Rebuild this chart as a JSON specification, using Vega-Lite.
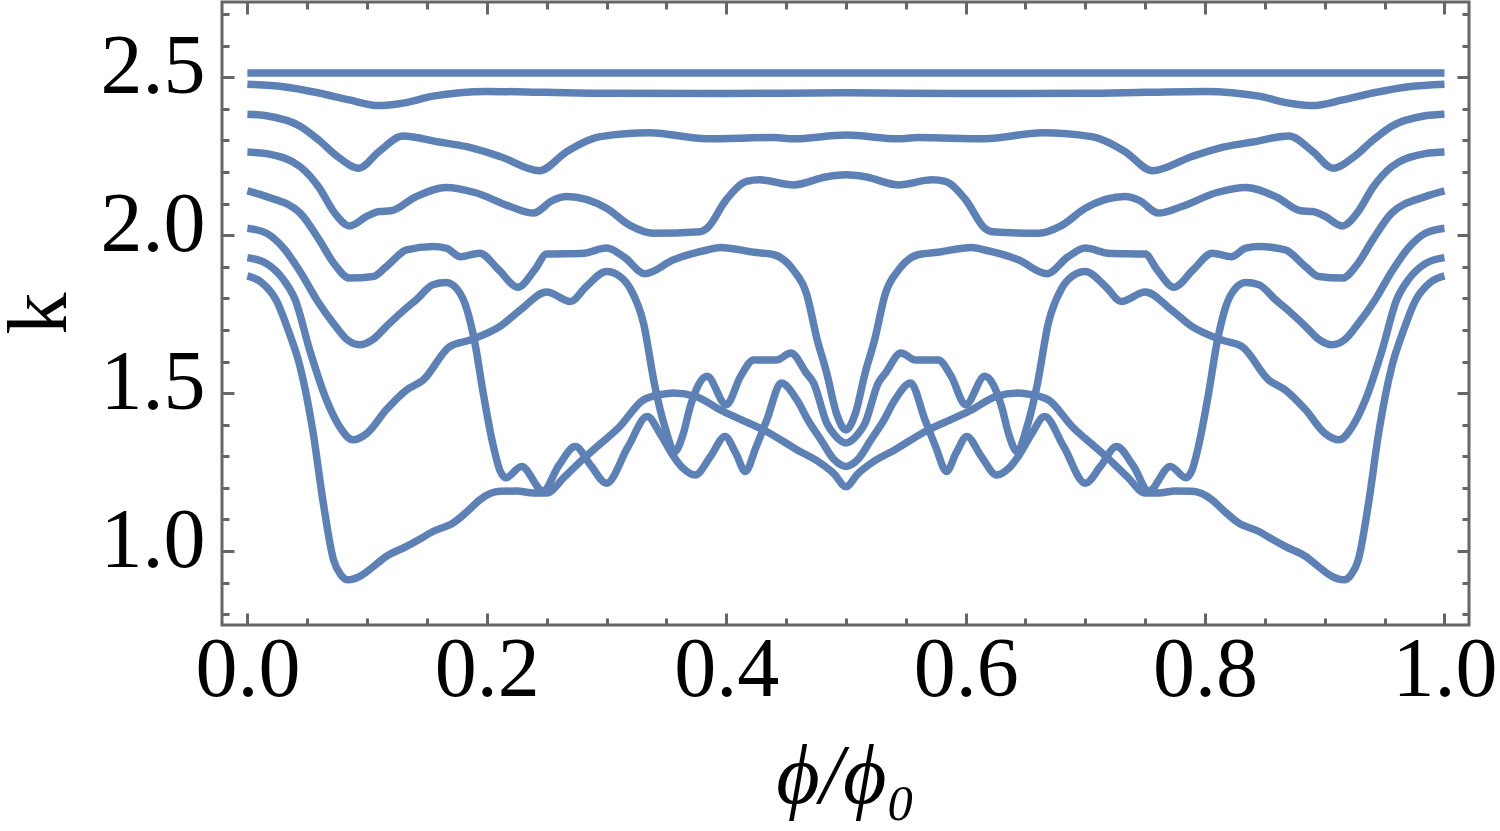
{
  "$schema": "https://vega.github.io/schema/vega-lite/v6.json",
  "background": "white",
  "autosize": "none",
  "width": 1247,
  "height": 623,
  "padding": {"left": 222, "top": 2, "right": 31, "bottom": 206},
  "config": {
    "view": {"stroke": "#666666", "strokeWidth": 3},
    "axis": {
      "domain": false,
      "grid": false,
      "tickColor": "#666666",
      "tickWidth": 3,
      "labelFont": "Liberation Serif",
      "labelFontSize": 84,
      "labelColor": "black",
      "labelFlush": false,
      "labelOverlap": false,
      "labelBound": false,
      "titleFont": "Liberation Serif",
      "titleFontSize": 84,
      "titleFontWeight": "normal",
      "titleColor": "black"
    }
  },
  "data": {
    "values": [
      {"s": "C1", "x": 0, "k": 2.513}, {"s": "C1", "x": 0.5, "k": 2.513}, {"s": "C1", "x": 1, "k": 2.513},

      {"s": "C2", "x": 0, "k": 2.478}, {"s": "C2", "x": 0.03, "k": 2.47}, {"s": "C2", "x": 0.06, "k": 2.45},
      {"s": "C2", "x": 0.085, "k": 2.428}, {"s": "C2", "x": 0.11, "k": 2.41}, {"s": "C2", "x": 0.13, "k": 2.418},
      {"s": "C2", "x": 0.155, "k": 2.44}, {"s": "C2", "x": 0.2, "k": 2.455}, {"s": "C2", "x": 0.25, "k": 2.452},
      {"s": "C2", "x": 0.3, "k": 2.449}, {"s": "C2", "x": 0.4, "k": 2.448}, {"s": "C2", "x": 0.5, "k": 2.451},
      {"s": "C2", "x": 0.6, "k": 2.448}, {"s": "C2", "x": 0.7, "k": 2.449}, {"s": "C2", "x": 0.75, "k": 2.452},
      {"s": "C2", "x": 0.8, "k": 2.455}, {"s": "C2", "x": 0.845, "k": 2.44}, {"s": "C2", "x": 0.87, "k": 2.418},
      {"s": "C2", "x": 0.89, "k": 2.41}, {"s": "C2", "x": 0.915, "k": 2.428}, {"s": "C2", "x": 0.94, "k": 2.45},
      {"s": "C2", "x": 0.97, "k": 2.47}, {"s": "C2", "x": 1, "k": 2.478},

      {"s": "C3", "x": 0, "k": 2.383}, {"s": "C3", "x": 0.016, "k": 2.378}, {"s": "C3", "x": 0.044, "k": 2.345},
      {"s": "C3", "x": 0.06, "k": 2.3}, {"s": "C3", "x": 0.075, "k": 2.25}, {"s": "C3", "x": 0.093, "k": 2.212},
      {"s": "C3", "x": 0.11, "k": 2.265}, {"s": "C3", "x": 0.13, "k": 2.314}, {"s": "C3", "x": 0.16, "k": 2.295},
      {"s": "C3", "x": 0.183, "k": 2.28}, {"s": "C3", "x": 0.211, "k": 2.249}, {"s": "C3", "x": 0.244, "k": 2.204},
      {"s": "C3", "x": 0.267, "k": 2.265}, {"s": "C3", "x": 0.295, "k": 2.312}, {"s": "C3", "x": 0.336, "k": 2.324},
      {"s": "C3", "x": 0.384, "k": 2.305}, {"s": "C3", "x": 0.44, "k": 2.309}, {"s": "C3", "x": 0.456, "k": 2.305},
      {"s": "C3", "x": 0.5, "k": 2.317},
      {"s": "C3", "x": 0.544, "k": 2.305}, {"s": "C3", "x": 0.56, "k": 2.309}, {"s": "C3", "x": 0.616, "k": 2.305},
      {"s": "C3", "x": 0.664, "k": 2.324}, {"s": "C3", "x": 0.705, "k": 2.312}, {"s": "C3", "x": 0.733, "k": 2.265},
      {"s": "C3", "x": 0.756, "k": 2.204}, {"s": "C3", "x": 0.789, "k": 2.249}, {"s": "C3", "x": 0.817, "k": 2.28},
      {"s": "C3", "x": 0.84, "k": 2.295}, {"s": "C3", "x": 0.87, "k": 2.314}, {"s": "C3", "x": 0.89, "k": 2.265},
      {"s": "C3", "x": 0.907, "k": 2.212}, {"s": "C3", "x": 0.925, "k": 2.25}, {"s": "C3", "x": 0.94, "k": 2.3},
      {"s": "C3", "x": 0.956, "k": 2.345}, {"s": "C3", "x": 0.984, "k": 2.378}, {"s": "C3", "x": 1, "k": 2.383},

      {"s": "C4", "x": 0, "k": 2.263}, {"s": "C4", "x": 0.016, "k": 2.258}, {"s": "C4", "x": 0.044, "k": 2.217},
      {"s": "C4", "x": 0.06, "k": 2.15}, {"s": "C4", "x": 0.072, "k": 2.075}, {"s": "C4", "x": 0.0855, "k": 2.029},
      {"s": "C4", "x": 0.1, "k": 2.06}, {"s": "C4", "x": 0.11, "k": 2.075}, {"s": "C4", "x": 0.12, "k": 2.077},
      {"s": "C4", "x": 0.14, "k": 2.12}, {"s": "C4", "x": 0.166, "k": 2.151}, {"s": "C4", "x": 0.19, "k": 2.135},
      {"s": "C4", "x": 0.22, "k": 2.09}, {"s": "C4", "x": 0.239, "k": 2.07}, {"s": "C4", "x": 0.255, "k": 2.11},
      {"s": "C4", "x": 0.267, "k": 2.122}, {"s": "C4", "x": 0.3, "k": 2.085}, {"s": "C4", "x": 0.32, "k": 2.03},
      {"s": "C4", "x": 0.339, "k": 2.006}, {"s": "C4", "x": 0.378, "k": 2.011}, {"s": "C4", "x": 0.384, "k": 2.022},
      {"s": "C4", "x": 0.4, "k": 2.112}, {"s": "C4", "x": 0.417, "k": 2.17}, {"s": "C4", "x": 0.428, "k": 2.175},
      {"s": "C4", "x": 0.456, "k": 2.159}, {"s": "C4", "x": 0.484, "k": 2.185}, {"s": "C4", "x": 0.5, "k": 2.191},
      {"s": "C4", "x": 0.516, "k": 2.185}, {"s": "C4", "x": 0.544, "k": 2.159}, {"s": "C4", "x": 0.572, "k": 2.175},
      {"s": "C4", "x": 0.583, "k": 2.17}, {"s": "C4", "x": 0.6, "k": 2.112}, {"s": "C4", "x": 0.616, "k": 2.022},
      {"s": "C4", "x": 0.622, "k": 2.011}, {"s": "C4", "x": 0.661, "k": 2.006}, {"s": "C4", "x": 0.68, "k": 2.03},
      {"s": "C4", "x": 0.7, "k": 2.085}, {"s": "C4", "x": 0.733, "k": 2.122}, {"s": "C4", "x": 0.745, "k": 2.11},
      {"s": "C4", "x": 0.761, "k": 2.07}, {"s": "C4", "x": 0.78, "k": 2.09}, {"s": "C4", "x": 0.81, "k": 2.135},
      {"s": "C4", "x": 0.834, "k": 2.151}, {"s": "C4", "x": 0.86, "k": 2.12}, {"s": "C4", "x": 0.88, "k": 2.077},
      {"s": "C4", "x": 0.89, "k": 2.075}, {"s": "C4", "x": 0.9, "k": 2.06}, {"s": "C4", "x": 0.9145, "k": 2.029},
      {"s": "C4", "x": 0.928, "k": 2.075}, {"s": "C4", "x": 0.94, "k": 2.15}, {"s": "C4", "x": 0.956, "k": 2.217},
      {"s": "C4", "x": 0.984, "k": 2.258}, {"s": "C4", "x": 1, "k": 2.263},

      {"s": "C5", "x": 0, "k": 2.14}, {"s": "C5", "x": 0.016, "k": 2.122}, {"s": "C5", "x": 0.044, "k": 2.07},
      {"s": "C5", "x": 0.06, "k": 1.985}, {"s": "C5", "x": 0.072, "k": 1.912}, {"s": "C5", "x": 0.0855, "k": 1.864},
      {"s": "C5", "x": 0.105, "k": 1.869}, {"s": "C5", "x": 0.116, "k": 1.9}, {"s": "C5", "x": 0.133, "k": 1.953},
      {"s": "C5", "x": 0.155, "k": 1.964}, {"s": "C5", "x": 0.166, "k": 1.959}, {"s": "C5", "x": 0.178, "k": 1.932},
      {"s": "C5", "x": 0.194, "k": 1.943}, {"s": "C5", "x": 0.21, "k": 1.89}, {"s": "C5", "x": 0.226, "k": 1.835},
      {"s": "C5", "x": 0.24, "k": 1.89}, {"s": "C5", "x": 0.25, "k": 1.94}, {"s": "C5", "x": 0.281, "k": 1.943},
      {"s": "C5", "x": 0.3, "k": 1.959}, {"s": "C5", "x": 0.315, "k": 1.93}, {"s": "C5", "x": 0.332, "k": 1.878},
      {"s": "C5", "x": 0.356, "k": 1.922}, {"s": "C5", "x": 0.384, "k": 1.953}, {"s": "C5", "x": 0.395, "k": 1.961},
      {"s": "C5", "x": 0.423, "k": 1.946}, {"s": "C5", "x": 0.44, "k": 1.938}, {"s": "C5", "x": 0.456, "k": 1.89},
      {"s": "C5", "x": 0.467, "k": 1.816}, {"s": "C5", "x": 0.476, "k": 1.669}, {"s": "C5", "x": 0.484, "k": 1.563},
      {"s": "C5", "x": 0.492, "k": 1.437}, {"s": "C5", "x": 0.5, "k": 1.384},
      {"s": "C5", "x": 0.508, "k": 1.437}, {"s": "C5", "x": 0.516, "k": 1.563}, {"s": "C5", "x": 0.524, "k": 1.669},
      {"s": "C5", "x": 0.533, "k": 1.816}, {"s": "C5", "x": 0.544, "k": 1.89}, {"s": "C5", "x": 0.56, "k": 1.938},
      {"s": "C5", "x": 0.577, "k": 1.946}, {"s": "C5", "x": 0.605, "k": 1.961}, {"s": "C5", "x": 0.616, "k": 1.953},
      {"s": "C5", "x": 0.644, "k": 1.922}, {"s": "C5", "x": 0.668, "k": 1.878}, {"s": "C5", "x": 0.685, "k": 1.93},
      {"s": "C5", "x": 0.7, "k": 1.959}, {"s": "C5", "x": 0.719, "k": 1.943}, {"s": "C5", "x": 0.75, "k": 1.94},
      {"s": "C5", "x": 0.76, "k": 1.89}, {"s": "C5", "x": 0.774, "k": 1.835}, {"s": "C5", "x": 0.79, "k": 1.89},
      {"s": "C5", "x": 0.806, "k": 1.943}, {"s": "C5", "x": 0.822, "k": 1.932}, {"s": "C5", "x": 0.834, "k": 1.959},
      {"s": "C5", "x": 0.845, "k": 1.964}, {"s": "C5", "x": 0.867, "k": 1.953}, {"s": "C5", "x": 0.884, "k": 1.9},
      {"s": "C5", "x": 0.895, "k": 1.869}, {"s": "C5", "x": 0.9145, "k": 1.864}, {"s": "C5", "x": 0.928, "k": 1.912},
      {"s": "C5", "x": 0.94, "k": 1.985}, {"s": "C5", "x": 0.956, "k": 2.07}, {"s": "C5", "x": 0.984, "k": 2.122},
      {"s": "C5", "x": 1, "k": 2.14},

      {"s": "C6", "x": 0, "k": 2.022}, {"s": "C6", "x": 0.016, "k": 2.006}, {"s": "C6", "x": 0.03, "k": 1.96},
      {"s": "C6", "x": 0.044, "k": 1.885}, {"s": "C6", "x": 0.058, "k": 1.795}, {"s": "C6", "x": 0.072, "k": 1.72},
      {"s": "C6", "x": 0.083, "k": 1.67}, {"s": "C6", "x": 0.094, "k": 1.653}, {"s": "C6", "x": 0.105, "k": 1.67},
      {"s": "C6", "x": 0.116, "k": 1.711}, {"s": "C6", "x": 0.13, "k": 1.76}, {"s": "C6", "x": 0.141, "k": 1.795},
      {"s": "C6", "x": 0.155, "k": 1.843}, {"s": "C6", "x": 0.166, "k": 1.85}, {"s": "C6", "x": 0.175, "k": 1.83},
      {"s": "C6", "x": 0.183, "k": 1.77}, {"s": "C6", "x": 0.19, "k": 1.66}, {"s": "C6", "x": 0.197, "k": 1.5},
      {"s": "C6", "x": 0.205, "k": 1.34}, {"s": "C6", "x": 0.211, "k": 1.255}, {"s": "C6", "x": 0.216, "k": 1.232},
      {"s": "C6", "x": 0.229, "k": 1.268}, {"s": "C6", "x": 0.247, "k": 1.19}, {"s": "C6", "x": 0.26, "k": 1.27},
      {"s": "C6", "x": 0.274, "k": 1.331}, {"s": "C6", "x": 0.287, "k": 1.27}, {"s": "C6", "x": 0.3, "k": 1.215},
      {"s": "C6", "x": 0.318, "k": 1.33}, {"s": "C6", "x": 0.334, "k": 1.426}, {"s": "C6", "x": 0.345, "k": 1.37},
      {"s": "C6", "x": 0.356, "k": 1.3}, {"s": "C6", "x": 0.364, "k": 1.262}, {"s": "C6", "x": 0.374, "k": 1.241},
      {"s": "C6", "x": 0.387, "k": 1.3}, {"s": "C6", "x": 0.399, "k": 1.363}, {"s": "C6", "x": 0.408, "k": 1.31},
      {"s": "C6", "x": 0.416, "k": 1.252}, {"s": "C6", "x": 0.425, "k": 1.33}, {"s": "C6", "x": 0.434, "k": 1.416},
      {"s": "C6", "x": 0.446, "k": 1.532}, {"s": "C6", "x": 0.459, "k": 1.479}, {"s": "C6", "x": 0.469, "k": 1.41},
      {"s": "C6", "x": 0.479, "k": 1.353}, {"s": "C6", "x": 0.49, "k": 1.29}, {"s": "C6", "x": 0.5, "k": 1.268},
      {"s": "C6", "x": 0.51, "k": 1.29}, {"s": "C6", "x": 0.521, "k": 1.353}, {"s": "C6", "x": 0.531, "k": 1.41},
      {"s": "C6", "x": 0.541, "k": 1.479}, {"s": "C6", "x": 0.554, "k": 1.532}, {"s": "C6", "x": 0.566, "k": 1.416},
      {"s": "C6", "x": 0.575, "k": 1.33}, {"s": "C6", "x": 0.584, "k": 1.252}, {"s": "C6", "x": 0.592, "k": 1.31},
      {"s": "C6", "x": 0.601, "k": 1.363}, {"s": "C6", "x": 0.613, "k": 1.3}, {"s": "C6", "x": 0.626, "k": 1.241},
      {"s": "C6", "x": 0.636, "k": 1.262}, {"s": "C6", "x": 0.644, "k": 1.3}, {"s": "C6", "x": 0.655, "k": 1.37},
      {"s": "C6", "x": 0.666, "k": 1.426}, {"s": "C6", "x": 0.682, "k": 1.33}, {"s": "C6", "x": 0.7, "k": 1.215},
      {"s": "C6", "x": 0.713, "k": 1.27}, {"s": "C6", "x": 0.726, "k": 1.331}, {"s": "C6", "x": 0.74, "k": 1.27},
      {"s": "C6", "x": 0.753, "k": 1.19}, {"s": "C6", "x": 0.771, "k": 1.268}, {"s": "C6", "x": 0.784, "k": 1.232},
      {"s": "C6", "x": 0.789, "k": 1.255}, {"s": "C6", "x": 0.795, "k": 1.34}, {"s": "C6", "x": 0.803, "k": 1.5},
      {"s": "C6", "x": 0.81, "k": 1.66}, {"s": "C6", "x": 0.817, "k": 1.77}, {"s": "C6", "x": 0.825, "k": 1.83},
      {"s": "C6", "x": 0.834, "k": 1.85}, {"s": "C6", "x": 0.845, "k": 1.843}, {"s": "C6", "x": 0.859, "k": 1.795},
      {"s": "C6", "x": 0.87, "k": 1.76}, {"s": "C6", "x": 0.884, "k": 1.711}, {"s": "C6", "x": 0.895, "k": 1.67},
      {"s": "C6", "x": 0.906, "k": 1.653}, {"s": "C6", "x": 0.917, "k": 1.67}, {"s": "C6", "x": 0.928, "k": 1.72},
      {"s": "C6", "x": 0.942, "k": 1.795}, {"s": "C6", "x": 0.956, "k": 1.885}, {"s": "C6", "x": 0.97, "k": 1.96},
      {"s": "C6", "x": 0.984, "k": 2.006}, {"s": "C6", "x": 1, "k": 2.022},

      {"s": "C7", "x": 0, "k": 1.929}, {"s": "C7", "x": 0.016, "k": 1.91}, {"s": "C7", "x": 0.03, "k": 1.86},
      {"s": "C7", "x": 0.04, "k": 1.795}, {"s": "C7", "x": 0.052, "k": 1.637}, {"s": "C7", "x": 0.066, "k": 1.479},
      {"s": "C7", "x": 0.077, "k": 1.394}, {"s": "C7", "x": 0.088, "k": 1.352}, {"s": "C7", "x": 0.1, "k": 1.373},
      {"s": "C7", "x": 0.116, "k": 1.447}, {"s": "C7", "x": 0.133, "k": 1.51}, {"s": "C7", "x": 0.147, "k": 1.542},
      {"s": "C7", "x": 0.169, "k": 1.647}, {"s": "C7", "x": 0.186, "k": 1.668}, {"s": "C7", "x": 0.211, "k": 1.711},
      {"s": "C7", "x": 0.228, "k": 1.763}, {"s": "C7", "x": 0.25, "k": 1.82}, {"s": "C7", "x": 0.27, "k": 1.79},
      {"s": "C7", "x": 0.283, "k": 1.837}, {"s": "C7", "x": 0.3, "k": 1.885}, {"s": "C7", "x": 0.311, "k": 1.87},
      {"s": "C7", "x": 0.32, "k": 1.83}, {"s": "C7", "x": 0.331, "k": 1.72}, {"s": "C7", "x": 0.34, "k": 1.53},
      {"s": "C7", "x": 0.349, "k": 1.39}, {"s": "C7", "x": 0.357, "k": 1.315}, {"s": "C7", "x": 0.364, "k": 1.37},
      {"s": "C7", "x": 0.37, "k": 1.458}, {"s": "C7", "x": 0.384, "k": 1.553}, {"s": "C7", "x": 0.4, "k": 1.463},
      {"s": "C7", "x": 0.412, "k": 1.553}, {"s": "C7", "x": 0.423, "k": 1.605}, {"s": "C7", "x": 0.442, "k": 1.605},
      {"s": "C7", "x": 0.454, "k": 1.627}, {"s": "C7", "x": 0.467, "k": 1.563}, {"s": "C7", "x": 0.473, "k": 1.532},
      {"s": "C7", "x": 0.484, "k": 1.405}, {"s": "C7", "x": 0.49, "k": 1.37}, {"s": "C7", "x": 0.5, "k": 1.342},
      {"s": "C7", "x": 0.51, "k": 1.37}, {"s": "C7", "x": 0.516, "k": 1.405}, {"s": "C7", "x": 0.527, "k": 1.532},
      {"s": "C7", "x": 0.533, "k": 1.563}, {"s": "C7", "x": 0.546, "k": 1.627}, {"s": "C7", "x": 0.558, "k": 1.605},
      {"s": "C7", "x": 0.577, "k": 1.605}, {"s": "C7", "x": 0.588, "k": 1.553}, {"s": "C7", "x": 0.6, "k": 1.463},
      {"s": "C7", "x": 0.616, "k": 1.553}, {"s": "C7", "x": 0.63, "k": 1.458}, {"s": "C7", "x": 0.636, "k": 1.37},
      {"s": "C7", "x": 0.643, "k": 1.315}, {"s": "C7", "x": 0.651, "k": 1.39}, {"s": "C7", "x": 0.66, "k": 1.53},
      {"s": "C7", "x": 0.669, "k": 1.72}, {"s": "C7", "x": 0.68, "k": 1.83}, {"s": "C7", "x": 0.689, "k": 1.87},
      {"s": "C7", "x": 0.7, "k": 1.885}, {"s": "C7", "x": 0.717, "k": 1.837}, {"s": "C7", "x": 0.73, "k": 1.79},
      {"s": "C7", "x": 0.75, "k": 1.82}, {"s": "C7", "x": 0.772, "k": 1.763}, {"s": "C7", "x": 0.789, "k": 1.711},
      {"s": "C7", "x": 0.814, "k": 1.668}, {"s": "C7", "x": 0.831, "k": 1.647}, {"s": "C7", "x": 0.853, "k": 1.542},
      {"s": "C7", "x": 0.867, "k": 1.51}, {"s": "C7", "x": 0.884, "k": 1.447}, {"s": "C7", "x": 0.9, "k": 1.373},
      {"s": "C7", "x": 0.912, "k": 1.352}, {"s": "C7", "x": 0.923, "k": 1.394}, {"s": "C7", "x": 0.934, "k": 1.479},
      {"s": "C7", "x": 0.948, "k": 1.637}, {"s": "C7", "x": 0.96, "k": 1.795}, {"s": "C7", "x": 0.97, "k": 1.86},
      {"s": "C7", "x": 0.984, "k": 1.91}, {"s": "C7", "x": 1, "k": 1.929},

      {"s": "C8", "x": 0, "k": 1.871}, {"s": "C8", "x": 0.012, "k": 1.85}, {"s": "C8", "x": 0.024, "k": 1.795},
      {"s": "C8", "x": 0.035, "k": 1.69}, {"s": "C8", "x": 0.044, "k": 1.584}, {"s": "C8", "x": 0.055, "k": 1.373},
      {"s": "C8", "x": 0.063, "k": 1.162}, {"s": "C8", "x": 0.072, "k": 0.972}, {"s": "C8", "x": 0.078, "k": 0.925},
      {"s": "C8", "x": 0.084, "k": 0.909}, {"s": "C8", "x": 0.094, "k": 0.92}, {"s": "C8", "x": 0.105, "k": 0.95},
      {"s": "C8", "x": 0.116, "k": 0.983}, {"s": "C8", "x": 0.133, "k": 1.015}, {"s": "C8", "x": 0.145, "k": 1.04},
      {"s": "C8", "x": 0.155, "k": 1.062}, {"s": "C8", "x": 0.172, "k": 1.089}, {"s": "C8", "x": 0.185, "k": 1.13},
      {"s": "C8", "x": 0.194, "k": 1.162}, {"s": "C8", "x": 0.211, "k": 1.189}, {"s": "C8", "x": 0.225, "k": 1.19},
      {"s": "C8", "x": 0.239, "k": 1.184}, {"s": "C8", "x": 0.25, "k": 1.184}, {"s": "C8", "x": 0.265, "k": 1.235},
      {"s": "C8", "x": 0.28, "k": 1.29}, {"s": "C8", "x": 0.295, "k": 1.34}, {"s": "C8", "x": 0.31, "k": 1.39},
      {"s": "C8", "x": 0.331, "k": 1.479}, {"s": "C8", "x": 0.345, "k": 1.495}, {"s": "C8", "x": 0.356, "k": 1.5},
      {"s": "C8", "x": 0.375, "k": 1.489}, {"s": "C8", "x": 0.395, "k": 1.447}, {"s": "C8", "x": 0.41, "k": 1.42},
      {"s": "C8", "x": 0.431, "k": 1.384}, {"s": "C8", "x": 0.459, "k": 1.321}, {"s": "C8", "x": 0.479, "k": 1.278},
      {"s": "C8", "x": 0.49, "k": 1.245}, {"s": "C8", "x": 0.5, "k": 1.204},
      {"s": "C8", "x": 0.51, "k": 1.245}, {"s": "C8", "x": 0.521, "k": 1.278}, {"s": "C8", "x": 0.541, "k": 1.321},
      {"s": "C8", "x": 0.569, "k": 1.384}, {"s": "C8", "x": 0.59, "k": 1.42}, {"s": "C8", "x": 0.605, "k": 1.447},
      {"s": "C8", "x": 0.625, "k": 1.489}, {"s": "C8", "x": 0.644, "k": 1.5}, {"s": "C8", "x": 0.655, "k": 1.495},
      {"s": "C8", "x": 0.669, "k": 1.479}, {"s": "C8", "x": 0.69, "k": 1.39}, {"s": "C8", "x": 0.705, "k": 1.34},
      {"s": "C8", "x": 0.72, "k": 1.29}, {"s": "C8", "x": 0.735, "k": 1.235}, {"s": "C8", "x": 0.75, "k": 1.184},
      {"s": "C8", "x": 0.761, "k": 1.184}, {"s": "C8", "x": 0.775, "k": 1.19}, {"s": "C8", "x": 0.789, "k": 1.189},
      {"s": "C8", "x": 0.806, "k": 1.162}, {"s": "C8", "x": 0.815, "k": 1.13}, {"s": "C8", "x": 0.828, "k": 1.089},
      {"s": "C8", "x": 0.845, "k": 1.062}, {"s": "C8", "x": 0.855, "k": 1.04}, {"s": "C8", "x": 0.867, "k": 1.015},
      {"s": "C8", "x": 0.884, "k": 0.983}, {"s": "C8", "x": 0.895, "k": 0.95}, {"s": "C8", "x": 0.906, "k": 0.92},
      {"s": "C8", "x": 0.916, "k": 0.909}, {"s": "C8", "x": 0.922, "k": 0.925}, {"s": "C8", "x": 0.928, "k": 0.972},
      {"s": "C8", "x": 0.937, "k": 1.162}, {"s": "C8", "x": 0.945, "k": 1.373}, {"s": "C8", "x": 0.956, "k": 1.584},
      {"s": "C8", "x": 0.965, "k": 1.69}, {"s": "C8", "x": 0.976, "k": 1.795}, {"s": "C8", "x": 0.988, "k": 1.85},
      {"s": "C8", "x": 1, "k": 1.871}
    ]
  },
  "resolve": {"axis": {"x": "independent", "y": "independent"}},
  "layer": [
    {
      "mark": {"type": "line", "color": "#5E81B5", "strokeWidth": 7.5, "interpolate": "monotone"},
      "encoding": {
        "x": {
          "field": "x", "type": "quantitative",
          "scale": {"domain": [-0.0212, 1.0205], "nice": false, "zero": false},
          "axis": {
            "orient": "bottom",
            "values": [0, 0.05, 0.1, 0.15, 0.2, 0.25, 0.3, 0.35, 0.4, 0.45, 0.5, 0.55, 0.6, 0.65, 0.7, 0.75, 0.8, 0.85, 0.9, 0.95, 1],
            "format": ".1f",
            "labelExpr": "abs(datum.value*5 - round(datum.value*5)) < 0.001 ? datum.label : ''",
            "tickSize": {"condition": {"test": "abs(datum.value*5 - round(datum.value*5)) < 0.001", "value": -12}, "value": -7},
            "labelPadding": 16,
            "title": "ϕ/ϕ₀",
            "titleFontStyle": "italic",
            "titleBaseline": "alphabetic",
            "titleY": 177
          }
        },
        "y": {
          "field": "k", "type": "quantitative",
          "scale": {"domain": [0.766, 2.738], "nice": false, "zero": false},
          "axis": {
            "orient": "left",
            "values": [0.8, 0.9, 1, 1.1, 1.2, 1.3, 1.4, 1.5, 1.6, 1.7, 1.8, 1.9, 2, 2.1, 2.2, 2.3, 2.4, 2.5, 2.6, 2.7],
            "format": ".1f",
            "labelExpr": "abs(datum.value*2 - round(datum.value*2)) < 0.001 ? datum.label : ''",
            "tickSize": {"condition": {"test": "abs(datum.value*2 - round(datum.value*2)) < 0.001", "value": -12}, "value": -7},
            "labelPadding": 29,
            "labelOffset": -10,
            "title": "k",
            "titleBaseline": "alphabetic",
            "titleAlign": "center",
            "titleX": -157,
            "titleY": 311
          }
        },
        "detail": {"field": "s", "type": "nominal"}
      }
    },
    {
      "mark": {"type": "line", "opacity": 0},
      "encoding": {
        "x": {
          "field": "x", "type": "quantitative",
          "axis": {
            "orient": "top",
            "values": [0, 0.05, 0.1, 0.15, 0.2, 0.25, 0.3, 0.35, 0.4, 0.45, 0.5, 0.55, 0.6, 0.65, 0.7, 0.75, 0.8, 0.85, 0.9, 0.95, 1],
            "labels": false,
            "title": null,
            "tickSize": {"condition": {"test": "abs(datum.value*5 - round(datum.value*5)) < 0.001", "value": -12}, "value": -7}
          }
        },
        "y": {
          "field": "k", "type": "quantitative",
          "axis": {
            "orient": "right",
            "values": [0.8, 0.9, 1, 1.1, 1.2, 1.3, 1.4, 1.5, 1.6, 1.7, 1.8, 1.9, 2, 2.1, 2.2, 2.3, 2.4, 2.5, 2.6, 2.7],
            "labels": false,
            "title": null,
            "tickSize": {"condition": {"test": "abs(datum.value*2 - round(datum.value*2)) < 0.001", "value": -12}, "value": -7}
          }
        },
        "detail": {"field": "s", "type": "nominal"}
      }
    }
  ]
}
